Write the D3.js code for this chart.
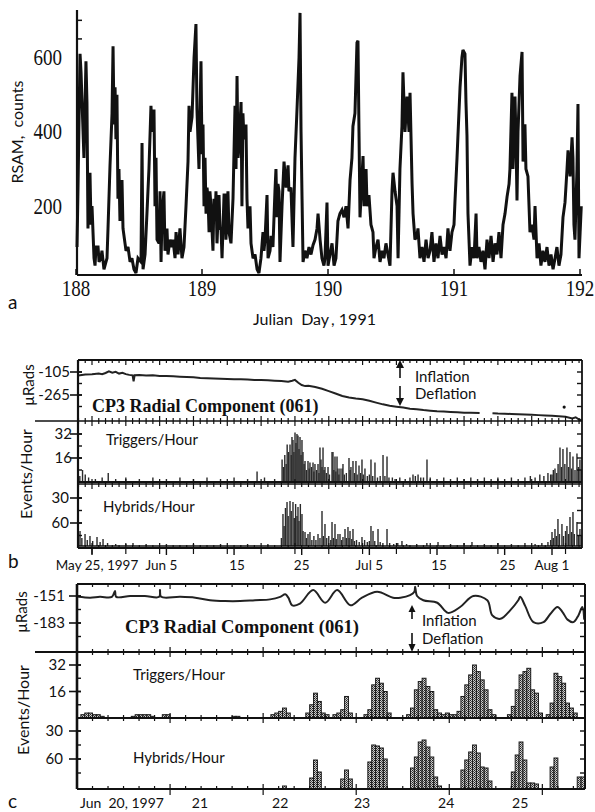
<!DOCTYPE html>
<html><head><meta charset="utf-8">
<script src="https://cdn.jsdelivr.net/npm/d3@7"></script>
<style>body{margin:0;background:#fff}svg{display:block}</style>
</head><body>
<svg id="chart" width="595" height="812"></svg>
<script>
// ================= DATA =================
// Panel a: RSAM counts vs Julian day 1991
const rsam = [
[188.008,90],[188.016,250],[188.032,610],[188.040,560],[188.056,400],[188.063,330],[188.079,590],[188.087,480],[188.095,140],[188.103,260],[188.111,290],[188.119,150],[188.127,200],[188.143,60],[188.151,40],[188.159,90],[188.175,90],[188.183,50],[188.198,60],[188.206,80],[188.222,30],[188.238,50],[188.246,60],[188.254,140],[188.270,310],[188.286,450],[188.294,630],[188.302,420],[188.310,520],[188.317,380],[188.325,500],[188.333,220],[188.341,300],[188.349,160],[188.357,230],[188.365,270],[188.373,140],[188.389,100],[188.397,80],[188.413,90],[188.429,50],[188.444,60],[188.460,30],[188.476,20],[188.492,60],[188.516,50],[188.524,370],[188.532,30],[188.548,70],[188.563,180],[188.579,300],[188.595,470],[188.603,400],[188.619,460],[188.627,200],[188.635,330],[188.643,110],[188.659,100],[188.667,240],[188.675,50],[188.683,180],[188.698,240],[188.706,80],[188.722,140],[188.730,70],[188.746,110],[188.762,90],[188.770,110],[188.786,60],[188.794,130],[188.810,70],[188.825,140],[188.841,60],[188.857,90],[188.873,200],[188.889,320],[188.897,470],[188.905,400],[188.921,440],[188.937,600],[188.952,690],[188.960,460],[188.968,380],[188.976,300],[188.984,450],[188.992,590],[189.000,340],[189.008,420],[189.016,200],[189.024,330],[189.032,180],[189.040,250],[189.048,220],[189.056,130],[189.063,240],[189.071,200],[189.079,140],[189.087,80],[189.095,220],[189.103,160],[189.111,240],[189.119,100],[189.135,230],[189.143,140],[189.151,140],[189.159,60],[189.175,230],[189.183,230],[189.190,110],[189.198,170],[189.206,240],[189.214,130],[189.230,100],[189.246,220],[189.262,470],[189.270,300],[189.278,550],[189.286,330],[189.294,360],[189.310,480],[189.317,200],[189.325,450],[189.333,380],[189.349,420],[189.357,220],[189.365,140],[189.381,200],[189.389,100],[189.405,60],[189.421,70],[189.437,30],[189.452,20],[189.468,60],[189.484,130],[189.492,80],[189.500,110],[189.516,230],[189.524,60],[189.540,80],[189.548,120],[189.563,90],[189.579,240],[189.587,300],[189.595,170],[189.603,260],[189.611,240],[189.619,50],[189.635,200],[189.651,320],[189.667,250],[189.683,310],[189.690,240],[189.706,250],[189.722,90],[189.738,330],[189.754,460],[189.770,600],[189.778,720],[189.786,400],[189.794,220],[189.802,50],
[189.817,80],[189.833,60],[189.849,90],[189.865,70],[189.881,95],[189.897,110],[189.913,140],[189.921,180],[189.937,110],[189.952,60],[189.968,40],[189.976,60],[189.992,210],[190.000,40],[190.016,70],[190.032,100],[190.048,40],[190.063,60],[190.079,160],[190.095,180],[190.111,190],[190.127,170],[190.143,200],[190.159,140],[190.175,270],[190.190,330],[190.198,415],[190.214,450],[190.230,640],[190.238,645],[190.246,400],[190.254,170],[190.270,280],[190.278,335],[190.286,200],[190.302,300],[190.310,200],[190.325,230],[190.341,150],[190.357,130],[190.365,60],[190.381,90],[190.397,110],[190.413,50],[190.429,80],[190.444,60],[190.460,100],[190.476,70],[190.492,40],[190.508,240],[190.516,290],[190.532,240],[190.548,200],[190.556,60],[190.571,300],[190.587,415],[190.595,560],[190.611,400],[190.627,495],[190.643,400],[190.651,505],[190.667,262],[190.675,180],[190.690,110],[190.706,120],[190.714,140],[190.730,60],[190.746,90],[190.762,50],[190.778,110],[190.794,60],[190.810,80],[190.825,130],[190.841,50],[190.857,100],[190.873,60],[190.889,120],[190.905,70],[190.921,90],[190.937,60],[190.952,140],[190.968,80],[190.984,130],[191.000,150],[191.008,215],[191.024,330],[191.032,395],[191.048,520],[191.063,600],[191.071,620],[191.087,610],[191.095,480],[191.103,390],[191.111,180],[191.127,40],[191.143,90],[191.159,60],[191.175,180],[191.183,60],[191.198,90],[191.214,50],[191.230,80],[191.246,30],[191.262,110],[191.278,60],[191.294,120],[191.310,50],[191.325,100],[191.341,70],[191.357,130],[191.373,60],[191.389,150],[191.405,180],[191.421,225],[191.437,260],[191.444,300],[191.460,505],[191.468,300],[191.484,495],[191.492,380],[191.500,215],[191.508,400],[191.524,550],[191.540,615],[191.548,320],[191.563,420],[191.571,300],[191.587,280],[191.603,130],[191.619,150],[191.635,110],[191.643,200],[191.659,60],[191.675,100],[191.690,40],[191.706,80],[191.722,50],[191.738,90],[191.754,40],[191.770,70],[191.786,30],[191.802,60],[191.817,90],[191.833,40],[191.849,70],[191.865,170],[191.881,210],[191.897,300],[191.905,350],[191.921,280],[191.937,385],[191.944,330],[191.952,150],[191.960,110],[191.976,300],[191.984,475],[191.992,60],[192.010,200]
];
const rsamDayTicks = [188, 189, 190, 191, 192];
const rsamCountTicks = [200, 400, 600];

// Panel b: day of year 1997
const tiltB = [[142.95,-130],[143.5,-126],[144,-122],[145,-120],[146,-116],[146.5,-121],[147,-112],[147.5,-100],[148,-110],[148.5,-104],[149,-116],[149.5,-110],[150,-120],[150.5,-125],[151,-128],[151.15,-170],[151.3,-128],[152,-126],[153,-130],[154,-128],[155,-132],[156,-133],[157,-135],[158,-138],[159,-140],[160,-142],[161,-146],[162,-148],[163,-150],[164,-152],[165,-154],[166,-155],[167,-156],[168,-158],[169,-160],[170,-161],[171,-163],[172,-166],[173,-168],[174,-172],[174.6,-166],[175,-160],[175.5,-180],[176,-196],[176.5,-203],[177,-200],[178,-209],[179,-222],[180,-238],[181,-255],[182,-272],[183,-282],[184,-290],[185,-294],[186,-305],[187,-318],[188,-330],[189,-340],[190,-346],[191,-352],[192,-360],[193,-364],[194,-370],[195,-374],[196,-378],[197,-380],[198,-383],[199,-385],[200,-388],[201,-389],[202.3,-391],[202.6,null],[204.2,-392],[205,-394],[206,-395],[207,-397],[208,-399],[209,-401],[210,-403],[211,-405],[212,-407],[213,-409],[214,-412],[215,-416],[216,-428],[216.5,-420],[217,-436],[217.4,-440]];
const tiltBDot = [[214.8,-349]];
const trigB = [[143.2,4],[143.6,8],[144.0,5],[144.5,3],[145.5,2],[146.5,3],[147.4,6],[148.5,2],[150,3],[152,2],[154,3],[156,2],[158,3],[160,2],[162,3],[164,2],[166,3],[168,2],[169.4,7],[170.5,3],[172,2],
[173.1,15],[173.3,10],[173.5,18],[173.7,12],[173.85,25],[174.05,20],[174.27,25],[174.45,18],[174.56,30],[174.71,28],[174.85,20],[175.01,33],[175.15,26],[175.3,32],[175.45,31],[175.6,22],[175.75,30],[175.9,18],[176.04,28],[176.19,20],[176.35,12],[176.49,14],[176.7,8],[176.93,14],[177.1,9],[177.22,13],[177.45,10],[177.67,13],[177.8,7],[177.96,12],[178.2,8],[178.41,12],[178.55,6],[178.7,23],[178.85,15],[179.0,10],[179.15,23],[179.3,8],[179.44,10],[179.65,6],[179.89,10],[180.1,5],[180.48,20],[180.62,20],[180.75,8],[180.92,17],[181.05,7],[181.22,17],[181.36,9],[181.5,5],[181.66,9],[181.96,9],[182.10,12],[182.3,5],[182.6,6],[182.99,16],[183.15,8],[183.28,10],[183.58,14],[183.8,6],[184.02,14],[184.2,5],[184.47,11],[184.7,6],[184.91,15],[185.1,5],[185.35,9],[185.7,4],[186.0,5],[186.24,15],[186.5,4],[186.83,13],[187.2,3],[187.6,4],[188.02,18],[188.3,4],[188.61,17],[188.9,3],[189.4,3],[189.8,2],[190.5,3],[191.3,2],[192.0,3],[192.45,5],[192.8,4],[193.2,5],[193.6,3],[194.0,3],[194.52,15],[195.0,3],[196.0,2],[197,3],[198,2],[199,3],[200,2],[201,3],[202,2],[203,3],[204,2],[205,3],[206,2],[207,3],[208,2],[209,3],[209.8,4],[210.5,3],[211.2,5],[211.8,4],[212.4,6],[212.8,5],[213.0,5],[213.2,8],[213.44,9],[213.7,6],[213.9,12],[214.18,23],[214.4,10],[214.62,22],[214.9,12],[215.21,23],[215.45,10],[215.66,20],[215.9,9],[216.10,17],[216.4,8],[216.69,19],[216.9,10],[217.13,15],[217.35,8]];
const hybB = [[143.0,12],[143.23,15],[143.5,8],[143.97,12],[144.3,6],[144.70,10],[145.1,5],[145.74,9],[146.2,4],[146.63,7],[147.3,3],[148.5,2],[150,2],[151.06,3],[153,2],[156,2],[160,2],[164,2],[168,2],[171,2],
[173.0,8],[173.23,32],[173.4,20],[173.6,38],[173.83,44],[174.0,30],[174.27,45],[174.45,35],[174.71,44],[174.9,28],[175.1,42],[175.3,30],[175.45,39],[175.6,25],[175.8,42],[176.04,32],[176.2,15],[176.49,14],[176.7,8],[176.93,12],[177.22,14],[177.5,6],[177.8,10],[178.1,6],[178.41,12],[178.7,8],[179.0,35],[179.2,10],[179.44,22],[179.7,8],[180.0,10],[180.3,6],[180.48,24],[180.7,8],[180.92,22],[181.1,7],[181.36,12],[181.66,12],[181.9,6],[182.1,9],[182.40,17],[182.6,8],[182.84,19],[183.0,8],[183.14,15],[183.4,7],[183.58,17],[183.8,5],[184.1,6],[184.5,4],[184.91,9],[185.3,6],[185.7,4],[186.0,5],[186.24,20],[186.54,15],[186.8,5],[187.28,17],[187.6,4],[188.0,3],[188.61,17],[189,3],[189.6,2],[190.2,3],[190.82,5],[191.5,2],[193,2],[194.5,3],[196.15,4],[198,2],[200,3],[201.17,4],[203,2],[205,3],[207,2],[209,3],[210.5,2],[211.5,3],[212.4,4],[212.8,6],[213.0,14],[213.2,8],[213.44,17],[213.65,10],[213.88,27],[214.1,12],[214.47,22],[214.7,10],[215.0,15],[215.21,20],[215.45,12],[215.66,29],[215.9,14],[216.10,34],[216.3,12],[216.69,24],[216.9,10],[217.13,17],[217.35,10]];
const bDateTicks = [145, 156, 166, 176, 186, 196, 206, 213];
const bDateLabels = ["May 25, 1997", "Jun 5", "15", "25", "Jul 5", "15", "25", "Aug 1"];
const bTiltTicks = [-105, -265];
const bTrigTicks = [16, 32];
const bHybTicks = [30, 60];

// Panel c: hours since Jun 20 1997 00:00
const tiltC = [[0.3,-152],[3.4,-153],[5.9,-152],[9.0,-152],[9.8,-145],[10.1,-152],[13.7,-151],[17.5,-151],[21.2,-152],[21.4,-144],[21.7,-152],[26.6,-152],[30.5,-153],[34.3,-156],[38.2,-157],[42.1,-157],[45.9,-156],[49.8,-155],[52.4,-152],[53.7,-149],[54.5,-153],[55.5,-162],[57.5,-160],[60.9,-144],[64.0,-159],[67.1,-144],[70.5,-162],[73.5,-153],[77.4,-146],[81.5,-153],[83.4,-153],[85.9,-150],[87.0,-146],[87.2,-140],[87.7,-151],[89.3,-156],[92.9,-159],[95.7,-171],[98.8,-164],[102.2,-151],[105.8,-156],[107.1,-174],[109.2,-178],[111.7,-168],[113.8,-156],[114.3,-152],[115.6,-163],[117.7,-182],[120.3,-182],[122.1,-172],[123.9,-164],[125.2,-170],[126.5,-179],[128.0,-182],[129.3,-174],[130.3,-164],[130.8,-179]];
const trigC = [[1,2],[2,3],[3,3],[4,2],[5,2],[6,1],[14,1],[15,2],[16,2],[17,2],[18,2],[19,1],[22,2],[23,2],[40,1],[41,1],[50,2],[51,3],[52,4],[53,6],[54,3],[59,3],[60,8],[61,15],[62,10],[63,3],[64,2],[66,2],[67,3],[68,5],[69,13],[70,3],[74,2],[75,5],[76,20],[77,24],[78,21],[79,16],[80,3],[85,2],[86,6],[87,17],[88,22],[89,24],[90,19],[91,16],[92,5],[93,3],[94,2],[95,3],[96,2],[97,2],[98,4],[99,13],[100,20],[101,26],[102,32],[103,28],[104,23],[105,17],[106,5],[107,2],[111,2],[112,7],[113,17],[114,26],[115,28],[116,30],[117,17],[118,15],[119,3],[121,2],[122,9],[123,27],[124,25],[125,21],[126,9],[127,6],[128,3]];
const hybC = [[53,3],[60,11],[61,29],[62,17],[68,10],[69,19],[70,10],[75,27],[76,44],[77,43],[78,41],[79,30],[86,21],[87,32],[88,47],[89,49],[90,42],[91,32],[92,12],[93,3],[99,19],[100,29],[101,37],[102,44],[103,36],[104,22],[105,21],[106,8],[112,17],[113,34],[114,47],[115,29],[116,6],[117,6],[118,5],[122,22],[123,31],[129,12],[130,12]];
const cLabelHours = [11.6, 31.7, 52.4, 73.5, 95.2, 114.3];
const cLabels = ["Jun\u00a0 20, 1997", "21", "22", "23", "24", "25"];
const cTiltTicks = [-151, -183];
const cTrigTicks = [16, 32];
const cHybTicks = [30, 60];

// ================= DRAWING =================
const SANS = "Lato, 'Noto Sans', sans-serif";
const SERIF = "'Liberation Serif', 'Times New Roman', serif";
const INK = "#111";
const svg = d3.select("#chart");
const defs = svg.append("defs");
const pat = defs.append("pattern").attr("id","stip").attr("width",2).attr("height",2).attr("patternUnits","userSpaceOnUse");
pat.append("rect").attr("width",2).attr("height",2).attr("fill","#cfcfcf");
pat.append("rect").attr("width",1).attr("height",1).attr("fill","#222");
pat.append("rect").attr("x",1).attr("y",1).attr("width",1).attr("height",1).attr("fill","#555");

function line(g,x1,y1,x2,y2,w){ return g.append("line").attr("x1",x1).attr("y1",y1).attr("x2",x2).attr("y2",y2).attr("stroke",INK).attr("stroke-width",w||1.5); }
function text(g,x,y,s,size,opts){
  opts=opts||{};
  const t=g.append("text").attr("x",x).attr("y",y).text(s)
    .attr("font-family",opts.family||SANS).attr("font-size",size).attr("fill",INK)
    .attr("text-anchor",opts.anchor||"start").style("white-space","pre");
  if(opts.weight) t.attr("font-weight",opts.weight);
  return t;
}
function vtext(g,cx,cy,s,size){
  return g.append("text").attr("transform",`translate(${cx},${cy}) rotate(-90)`)
    .attr("text-anchor","middle").attr("dominant-baseline","middle").text(s)
    .attr("font-family",SANS).attr("font-size",size).attr("fill",INK).style("white-space","pre");
}

// ---------- Panel a ----------
{
  const g = svg.append("g");
  const x = d3.scaleLinear().domain([188,192]).range([76,580]);
  const y = d3.scaleLinear().domain([0,600]).range([280.5,57.5]);
  g.append("path").datum(rsam)
    .attr("d", d3.line().x(d=>x(d[0])).y(d=>y(d[1])))
    .attr("fill","none").attr("stroke",INK).attr("stroke-width",3)
    .attr("stroke-linejoin","miter").attr("stroke-miterlimit",3);
  line(g,77,10,77,275,2.2);
  line(g,77,275,582,275,2.2);
  rsamDayTicks.forEach(d=>{
    line(g,x(d),275,x(d),269,1.5);
    g.append("g").attr("transform",`translate(${x(d)},296)`)
      .append("text").attr("transform","scale(1,1.25)").attr("text-anchor","middle")
      .attr("font-family",SERIF).attr("font-size",19).attr("fill",INK).text(d);
  });
  rsamCountTicks.forEach(v=>{
    g.append("g").attr("transform",`translate(62,${y(v)+7.5})`)
      .append("text").attr("transform","scale(1,1.25)").attr("text-anchor","end")
      .attr("font-family",SERIF).attr("font-size",19).attr("fill",INK).text(v);
  });
  [650,700].forEach(v=>line(g,77,y(v),82,y(v),1.5));
  vtext(g,19,132,"RSAM,\u00a0 counts",16);
  text(g,253,325,"Julian\u00a0 Day\u2009, 1991",16);
  text(g,8,309,"a",19);
}

// generic tick helpers
function frameTicks(g, xs, majorFn, F){
  xs.forEach(v=>{
    const X = v.x, M = majorFn(v.d);
    line(g,X,F.t,X,F.t+(M?5:3),1.2);
    F.divs.forEach(dy=>line(g,X,dy-(M?5:3),X,dy+(M?5:3),1.2));
    line(g,X,F.b-(M?5:3),X,F.b+(M?6:0),1.2);
  });
}
function yTicks(g, F, ys, labeled, labelsAt, labelDx){
  ys.forEach(yv=>{ line(g,F.l,yv,F.l+4,yv,1.4); line(g,F.r-5,yv,F.r,yv,1.4); });
  labeled.forEach((yv,i)=>{
    line(g,F.l-8,yv,F.l+4,yv,1.6);
    text(g,F.l-labelDx,yv+5,labelsAt[i],15,{anchor:"end"});
  });
}

// ---------- Panel b ----------
{
  const g = svg.append("g");
  const F = {l:78, r:582, t:360, d1:421, d2:484, b:548};
  F.divs=[F.d1,F.d2];
  const x = d3.scaleLinear().domain([145,213]).range([92,552]);
  const yT = d3.scaleLinear().domain([-105,-265]).range([372,395]);
  const yTr = d3.scaleLinear().domain([0,32]).range([482,434]);
  const yH = d3.scaleLinear().domain([0,60]).range([546,486]);
  const yHL = d3.scaleLinear().domain([30,60]).range([498,523]);
  defs.append("clipPath").attr("id","cb").append("rect").attr("x",F.l).attr("y",F.t).attr("width",F.r-F.l).attr("height",F.b-F.t);
  const pg = g.append("g").attr("clip-path","url(#cb)");
  pg.append("path").datum(tiltB)
    .attr("d", d3.line().defined(d=>d[1]!==null).x(d=>x(d[0])).y(d=>yT(d[1])))
    .attr("fill","none").attr("stroke","#222").attr("stroke-width",2);
  pg.selectAll(".dot").data(tiltBDot).join("circle").attr("cx",d=>x(d[0])).attr("cy",d=>yT(d[1])).attr("r",1.6).attr("fill",INK);
  pg.selectAll(".tb").data(trigB).join("rect").attr("x",d=>x(d[0])-0.7).attr("width",1.4)
    .attr("y",d=>yTr(d[1])).attr("height",d=>yTr(0)-yTr(d[1])).attr("fill","#2a2a2a");
  pg.selectAll(".hb").data(hybB).join("rect").attr("x",d=>x(d[0])-0.7).attr("width",1.4)
    .attr("y",d=>yH(d[1])).attr("height",d=>yH(0)-yH(d[1])).attr("fill","#2a2a2a");
  line(g,F.l,yTr(0),F.r,yTr(0),2);
  line(g,F.l,yH(0),F.r,yH(0),1.6);
  // frame
  line(g,F.l,F.t,F.r,F.t,1.8);
  line(g,35,F.d1,F.r,F.d1,1.6);
  line(g,F.l,F.d2,F.r,F.d2,1.6);
  line(g,F.l,F.b,F.r,F.b,2);
  line(g,F.l,F.t,F.l,F.b,2.2);
  line(g,F.r,F.t,F.r,F.b,1.8);
  const days = d3.range(143,218).map(d=>({d:d,x:x(d)}));
  frameTicks(g, days, d=>(d-145)%5===0, F);
  const dxB = [5,-5,3,0,0,2,3,0];
  bDateTicks.forEach((d,i)=>{
    line(g,x(d),F.b,x(d),F.b+7,1.4);
    text(g,x(d)+dxB[i],570,bDateLabels[i],13.5,{anchor:"middle"});
  });
  yTicks(g,F,[372,383.5,395,406.5],bTiltTicks.map(yT),["-105","-265"],8);
  yTicks(g,F,[yTr(8),yTr(16),yTr(24),yTr(32)],bTrigTicks.map(yTr),["16","32"],6);
  yTicks(g,F,[yHL(30),yHL(45),yHL(60),yHL(75)],bHybTicks.map(yHL),["30","60"],9);
  text(g,92,412,"CP3 Radial Component (061)",18,{family:SERIF,weight:"bold"});
  text(g,415,382,"Inflation",15);
  text(g,415,399,"Deflation",15);
  // arrows
  line(g,400,378,400,366,1.6);
  g.append("path").attr("d","M396,368 L400,360 L404,368 Z").attr("fill",INK);
  line(g,400,386,400,400,1.6);
  g.append("path").attr("d","M396,398 L400,406 L404,398 Z").attr("fill",INK);
  text(g,106,445,"Triggers/Hour",15);
  text(g,103,512,"Hybrids/Hour",15);
  vtext(g,30,385,"\u00b5Rads",15);
  vtext(g,28,474,"Events/Hour",16);
  text(g,8,568,"b",19);
}

// ---------- Panel c ----------
{
  const g = svg.append("g");
  const F = {l:77, r:585, t:584, d1:652, d2:718, b:789};
  F.divs=[F.d1,F.d2];
  const x = d3.scaleLinear().domain([0,131]).range([77,585]);
  const yT = d3.scaleLinear().domain([-151,-183]).range([596,623]);
  const yTr = d3.scaleLinear().domain([0,32]).range([718,665]);
  const yH = d3.scaleLinear().domain([0,60]).range([789,729]);
  const yHL = d3.scaleLinear().domain([30,60]).range([731,759]);
  defs.append("clipPath").attr("id","cc").append("rect").attr("x",F.l).attr("y",F.t).attr("width",F.r-F.l).attr("height",F.b-F.t);
  const pg = g.append("g").attr("clip-path","url(#cc)");
  pg.append("path").datum(tiltC)
    .attr("d", d3.line().curve(d3.curveCatmullRom.alpha(0.5)).x(d=>x(d[0])).y(d=>yT(d[1])))
    .attr("fill","none").attr("stroke","#222").attr("stroke-width",2);
  pg.selectAll(".tc").data(trigC).join("rect").attr("x",d=>x(d[0])).attr("width",d=>x(d[0]+1)-x(d[0]))
    .attr("y",d=>yTr(d[1])).attr("height",d=>yTr(0)-yTr(d[1]))
    .attr("fill","url(#stip)").attr("stroke","#1a1a1a").attr("stroke-width",1);
  pg.selectAll(".hc").data(hybC).join("rect").attr("x",d=>x(d[0])).attr("width",d=>x(d[0]+1)-x(d[0]))
    .attr("y",d=>yH(d[1])).attr("height",d=>yH(0)-yH(d[1]))
    .attr("fill","url(#stip)").attr("stroke","#1a1a1a").attr("stroke-width",1);
  line(g,F.l,F.t,F.r,F.t,1.8);
  line(g,35,F.d1,F.r,F.d1,1.8);
  line(g,F.l,F.d2,F.r,F.d2,2);
  line(g,F.l,F.b,F.r,F.b,2.2);
  line(g,F.l,F.t,F.l,F.b,2.6);
  line(g,F.r,F.t,F.r,F.b,2);
  const hrs = d3.range(4,131,4).map(h=>({d:h,x:x(h)}));
  frameTicks(g, hrs, h=>h%24===0, F);
  cLabelHours.forEach((h,i)=>text(g,x(h),808,cLabels[i],14,{anchor:"middle"}));
  yTicks(g,F,[yT(-151),yT(-167),yT(-183),yT(-199)],cTiltTicks.map(yT),["-151","-183"],12);
  yTicks(g,F,[yTr(8),yTr(16),yTr(24),yTr(32)],cTrigTicks.map(yTr),["16","32"],11);
  yTicks(g,F,[yHL(30),yHL(45),yHL(60),yHL(75)],cHybTicks.map(yHL),["30","60"],14);
  text(g,125,633,"CP3 Radial Component (061)",18.6,{family:SERIF,weight:"bold"});
  text(g,422,626,"Inflation",15);
  text(g,422,644,"Deflation",15);
  line(g,412,619,412,611,1.6);
  g.append("path").attr("d","M408.5,612 L412,605 L415.5,612 Z").attr("fill",INK);
  line(g,412,633,412,645,1.6);
  g.append("path").attr("d","M408.5,644 L412,652 L415.5,644 Z").attr("fill",INK);
  text(g,133,680,"Triggers/Hour",15);
  text(g,133,763,"Hybrids/Hour",15);
  vtext(g,23,612,"\u00b5Rads",15);
  vtext(g,25,710,"Events/Hour",16);
  text(g,8,808,"c",19);
}
</script>
</body></html>
